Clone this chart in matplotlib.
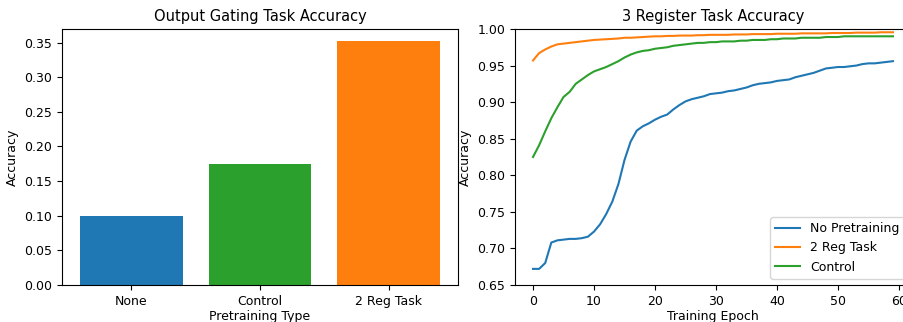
import numpy as np
import matplotlib
matplotlib.use('Agg')
import matplotlib.pyplot as plt

# Bar chart data
pretrain_types = ['None', 'Control', '2 Reg Task']
gating_acc = [0.100, 0.175, 0.352]
bar_colors = ['#1f77b4', '#2ca02c', '#ff7f0e']

# Training curves
no_pretraining = [
    0.672, 0.672, 0.680, 0.708, 0.711, 0.712, 0.713, 0.713, 0.714, 0.716,
    0.723, 0.733, 0.747, 0.764, 0.788, 0.821, 0.846, 0.861, 0.867, 0.871,
    0.876, 0.880, 0.883, 0.890, 0.896, 0.901, 0.904, 0.906, 0.908, 0.911,
    0.912, 0.913, 0.915, 0.916, 0.918, 0.920, 0.923, 0.925, 0.926, 0.927,
    0.929, 0.930, 0.931, 0.934, 0.936, 0.938, 0.940, 0.943, 0.946, 0.947,
    0.948, 0.948, 0.949, 0.950, 0.952, 0.953, 0.953, 0.954, 0.955, 0.956,
]
reg2_task = [
    0.957, 0.967, 0.972, 0.976, 0.979, 0.980, 0.981, 0.982, 0.983, 0.984,
    0.985, 0.9855, 0.986, 0.9865, 0.987, 0.988, 0.988, 0.9885, 0.989, 0.9895,
    0.990, 0.990, 0.9905, 0.9905, 0.991, 0.991, 0.991, 0.9915, 0.9915, 0.992,
    0.992, 0.992, 0.992, 0.9925, 0.9925, 0.9925, 0.993, 0.993, 0.993, 0.993,
    0.9935, 0.9935, 0.9935, 0.9935, 0.994, 0.994, 0.994, 0.994, 0.994, 0.9945,
    0.9945, 0.9945, 0.9945, 0.995, 0.995, 0.995, 0.995, 0.9955, 0.9955, 0.9955,
]
control = [
    0.825, 0.841, 0.860, 0.878, 0.893, 0.907, 0.914, 0.925, 0.931, 0.937,
    0.942, 0.945, 0.948, 0.952, 0.956, 0.961, 0.965, 0.968, 0.970, 0.971,
    0.973, 0.974, 0.975, 0.977, 0.978, 0.979, 0.980, 0.981, 0.981, 0.982,
    0.982, 0.983, 0.983, 0.983, 0.984, 0.984, 0.985, 0.985, 0.985, 0.986,
    0.986, 0.987, 0.987, 0.987, 0.988, 0.988, 0.988, 0.988, 0.989, 0.989,
    0.989, 0.990, 0.990, 0.990, 0.990, 0.990, 0.990, 0.990, 0.990, 0.990,
]
epochs = np.arange(len(no_pretraining))

plt.rcParams['font.size'] = 9
plt.rcParams['xtick.major.size'] = 3.5
plt.rcParams['ytick.major.size'] = 3.5

fig = plt.figure(figsize=(9.04, 3.22), dpi=100)
ax1 = fig.add_axes([0.0686, 0.115, 0.438, 0.795])
ax2 = fig.add_axes([0.5697, 0.115, 0.438, 0.795])

# Left: final accuracy on output gating task
ax1.bar(pretrain_types, gating_acc, color=bar_colors)
ax1.set_title('Output Gating Task Accuracy', fontsize=10.5)
ax1.set_xlabel('Pretraining Type', labelpad=2)
ax1.set_ylabel('Accuracy')

# Right: learning curves
ax2.plot(epochs, no_pretraining, color='#1f77b4', label='No Pretraining')
ax2.plot(epochs, reg2_task, color='#ff7f0e', label='2 Reg Task')
ax2.plot(epochs, control, color='#2ca02c', label='Control')
ax2.set_ylim(0.65, 1.0)
ax2.set_title('3 Register Task Accuracy', fontsize=10.5)
ax2.set_xlabel('Training Epoch', labelpad=2)
ax2.set_ylabel('Accuracy')
ax2.legend(loc='lower right')

fig.savefig('out.png', dpi=100)
